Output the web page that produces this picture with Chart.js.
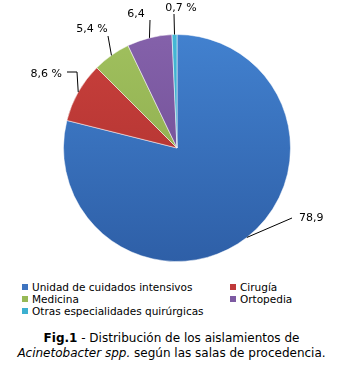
<!DOCTYPE html>
<html>
<head>
<meta charset="utf-8">
<script src="https://cdn.jsdelivr.net/npm/chart.js@4"></script>
<style>
  body { margin: 0; background: #fff; font-family: "DejaVu Sans", Verdana, sans-serif; }
  #wrap { position: relative; width: 343px; height: 366px; }
  #pie { position: absolute; left: 0; top: 0; }
  .leg { position: absolute; font-size: 10.5px; color: #000; line-height: 12px; white-space: nowrap; }
  .leg i { display: inline-block; width: 6px; height: 6px; margin-right: 4px; vertical-align: 1px; }
  #caption { position: absolute; left: 0; top: 331px; width: 343px; text-align: center; font-size: 12px; line-height: 15px; color: #000; }
</style>
</head>
<body>
<div id="wrap">
  <canvas id="pie" width="343" height="270"></canvas>
  <div id="legend"></div>
  <div id="caption"><b>Fig.1</b> - Distribución de los aislamientos de<br><i>Acinetobacter spp.</i> según las salas de procedencia.</div>
</div>
<script>
// Salas de procedencia y porcentaje de aislamientos
const salas = ['Unidad de cuidados intensivos', 'Cirugía', 'Medicina', 'Ortopedia', 'Otras especialidades quirúrgicas'];
const porcentajes = [78.9, 8.6, 5.4, 6.4, 0.7];
const etiquetas = ['78,9', '8,6 %', '5,4 %', '6,4', '0,7 %'];

const coloresClaros = ['#4281cf', '#c9403c', '#a0c05e', '#8461aa', '#45b8d6'];
const coloresOscuros = ['#2e5fa7', '#a92f2d', '#88a648', '#6b4a8f', '#2e9dbd'];
const coloresLeyenda = ['#3e74c0', '#c0393a', '#97b956', '#7d5aa2', '#3cb0d0'];

// posición del texto de cada etiqueta y codo de la línea guía
const posEtiquetas = [
  { x: 299, y: 218, align: 'left', codo: [292, 218] },
  { x: 62, y: 74, align: 'right', codo: [77, 72], pre: [67, 72] },
  { x: 92, y: 29, align: 'center', codo: [108, 36] },
  { x: 136, y: 14, align: 'center', codo: [150, 20] },
  { x: 181, y: 8, align: 'center', codo: [174, 14] }
];

const ctx = document.getElementById('pie').getContext('2d');

function degradado(i) {
  const g = ctx.createLinearGradient(0, 34, 0, 262);
  g.addColorStop(0, coloresClaros[i]);
  g.addColorStop(1, coloresOscuros[i]);
  return g;
}

const etiquetasPlugin = {
  id: 'etiquetasGuia',
  afterDatasetsDraw(chart) {
    const c = chart.ctx;
    const arcs = chart.getDatasetMeta(0).data;
    c.save();
    c.strokeStyle = '#000';
    c.lineWidth = 1;
    c.fillStyle = '#000';
    c.font = '11px "DejaVu Sans", Verdana, sans-serif';
    c.textBaseline = 'middle';
    arcs.forEach((arc, i) => {
      const p = posEtiquetas[i];
      const mid = (arc.startAngle + arc.endAngle) / 2;
      const ex = arc.x + Math.cos(mid) * arc.outerRadius;
      const ey = arc.y + Math.sin(mid) * arc.outerRadius;
      c.beginPath();
      c.moveTo(ex, ey);
      c.lineTo(p.codo[0], p.codo[1]);
      if (p.pre) c.lineTo(p.pre[0], p.pre[1]);
      c.stroke();
      c.textAlign = p.align;
      c.fillText(etiquetas[i], p.x, p.y);
    });
    c.restore();
  }
};

new Chart(ctx, {
  type: 'pie',
  data: {
    labels: salas,
    datasets: [{
      data: porcentajes,
      backgroundColor: porcentajes.map((v, i) => degradado(i)),
      borderColor: 'rgba(255,255,255,0.5)',
      borderWidth: 1
    }]
  },
  options: {
    responsive: false,
    animation: false,
    layout: { padding: { left: 11, top: 34, bottom: 8, right: 0 } },
    plugins: {
      legend: { display: false },
      tooltip: { enabled: false }
    }
  },
  plugins: [etiquetasPlugin]
});

// leyenda en dos columnas
const legend = document.getElementById('legend');
const celdas = [[22, 281], [230, 281], [22, 293], [230, 293], [22, 305]];
salas.forEach((s, i) => {
  const d = document.createElement('div');
  d.className = 'leg';
  d.style.left = celdas[i][0] + 'px';
  d.style.top = celdas[i][1] + 'px';
  d.innerHTML = '<i style="background:' + coloresLeyenda[i] + '"></i>' + s;
  legend.appendChild(d);
});
</script>
</body>
</html>
